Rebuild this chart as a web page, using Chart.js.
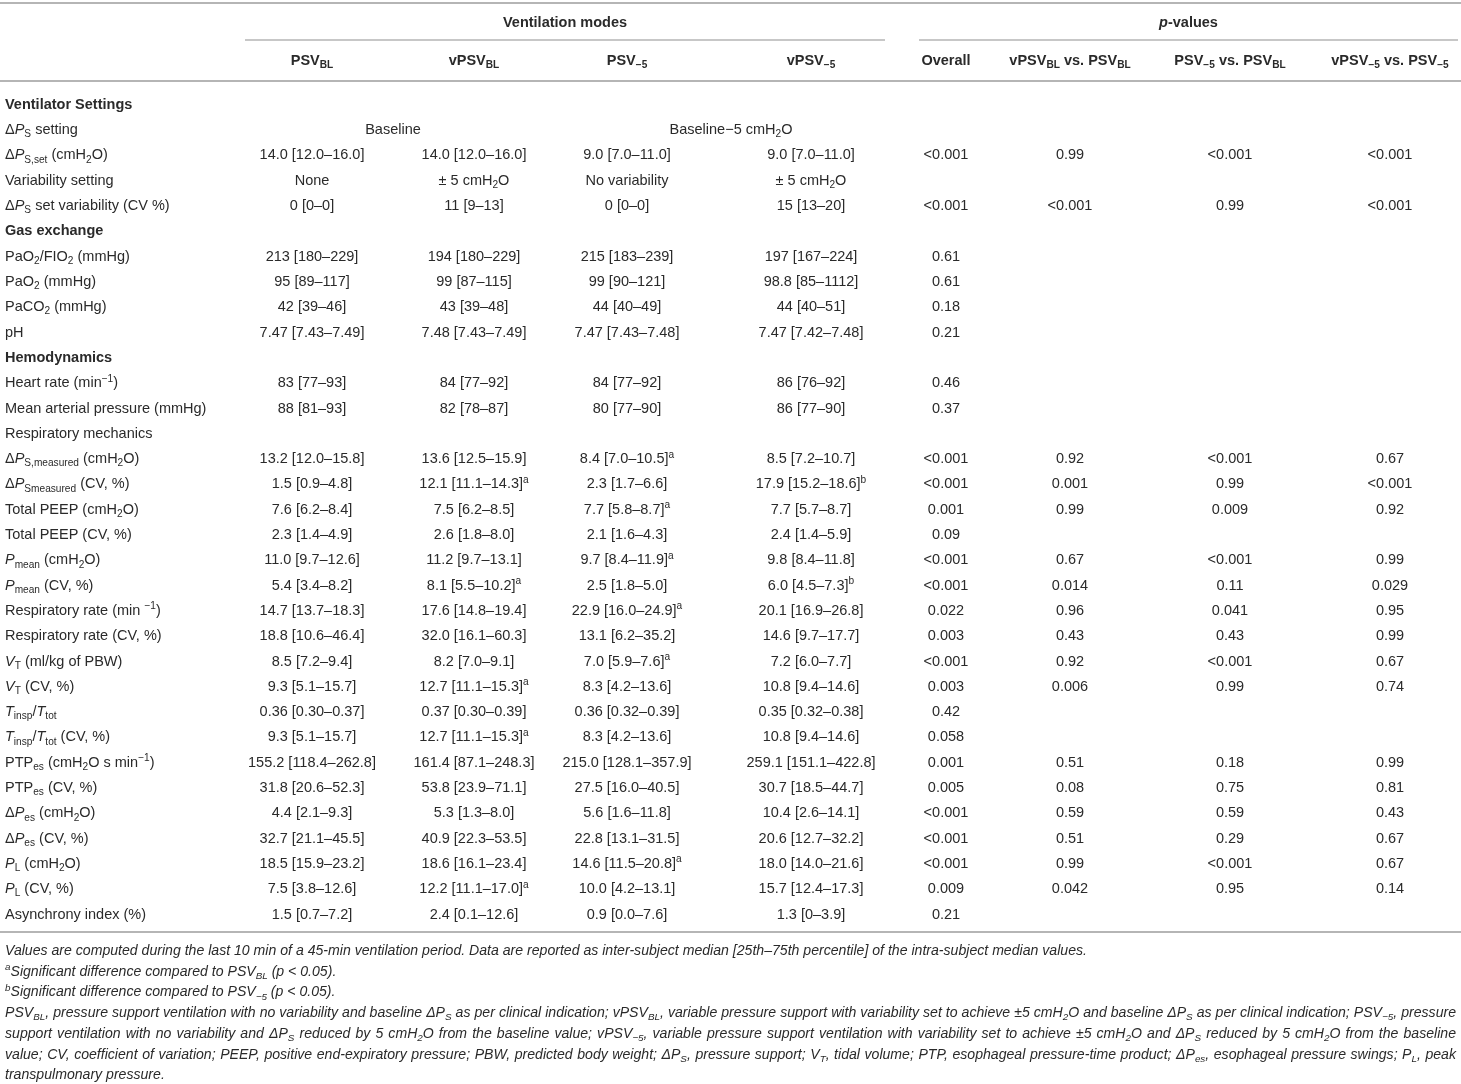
<!DOCTYPE html>
<html>
<head>
<meta charset="utf-8">
<script src="https://cdn.jsdelivr.net/npm/chart.js@4.4.0/dist/chart.umd.min.js"></script>
<style>
  html, body { margin: 0; padding: 0; background: #fff; }
  #wrap { width: 1461px; height: 1084px; position: relative; }
</style>
</head>
<body>
<div id="wrap"><canvas id="tableChart"></canvas></div>
<script>
// markup: *x* italic, _{x} subscript, ^{x} superscript
var groupHeaders = ['Ventilation modes', '*p*-values']
var colHeaders = ['PSV_{BL}', 'vPSV_{BL}', 'PSV_{−5}', 'vPSV_{−5}', 'Overall',
    'vPSV_{BL} vs. PSV_{BL}', 'PSV_{−5} vs. PSV_{BL}', 'vPSV_{−5} vs. PSV_{−5}']

var rowLabels = [
    'Ventilator Settings', 'Δ*P*_{S} setting', 'Δ*P*_{S,set} (cmH_{2}O)', 'Variability setting',
    'Δ*P*_{S} set variability (CV %)', 'Gas exchange', 'PaO_{2}/FIO_{2} (mmHg)', 'PaO_{2} (mmHg)',
    'PaCO_{2} (mmHg)', 'pH', 'Hemodynamics', 'Heart rate (min^{−1})', 'Mean arterial pressure (mmHg)',
    'Respiratory mechanics', 'Δ*P*_{S,measured} (cmH_{2}O)', 'Δ*P*_{Smeasured} (CV, %)',
    'Total PEEP (cmH_{2}O)', 'Total PEEP (CV, %)', '*P*_{mean} (cmH_{2}O)', '*P*_{mean} (CV, %)',
    'Respiratory rate (min ^{−1})', 'Respiratory rate (CV, %)', '*V*_{T} (ml/kg of PBW)', '*V*_{T} (CV, %)',
    '*T*_{insp}/*T*_{tot}', '*T*_{insp}/*T*_{tot} (CV, %)', 'PTP_{es} (cmH_{2}O s min^{−1})', 'PTP_{es} (CV, %)',
    'Δ*P*_{es} (cmH_{2}O)', 'Δ*P*_{es} (CV, %)', '*P*_{L} (cmH_{2}O)', '*P*_{L} (CV, %)', 'Asynchrony index (%)'
]
var sectionRows = [0, 5, 10]

var psvBL = ['', 'Baseline', '14.0 [12.0–16.0]', 'None', '0 [0–0]', '', '213 [180–229]', '95 [89–117]',
    '42 [39–46]', '7.47 [7.43–7.49]', '', '83 [77–93]', '88 [81–93]', '', '13.2 [12.0–15.8]', '1.5 [0.9–4.8]',
    '7.6 [6.2–8.4]', '2.3 [1.4–4.9]', '11.0 [9.7–12.6]', '5.4 [3.4–8.2]', '14.7 [13.7–18.3]', '18.8 [10.6–46.4]',
    '8.5 [7.2–9.4]', '9.3 [5.1–15.7]', '0.36 [0.30–0.37]', '9.3 [5.1–15.7]', '155.2 [118.4–262.8]',
    '31.8 [20.6–52.3]', '4.4 [2.1–9.3]', '32.7 [21.1–45.5]', '18.5 [15.9–23.2]', '7.5 [3.8–12.6]', '1.5 [0.7–7.2]']
var vpsvBL = ['', '', '14.0 [12.0–16.0]', '± 5 cmH_{2}O', '11 [9–13]', '', '194 [180–229]', '99 [87–115]',
    '43 [39–48]', '7.48 [7.43–7.49]', '', '84 [77–92]', '82 [78–87]', '', '13.6 [12.5–15.9]', '12.1 [11.1–14.3]^{a}',
    '7.5 [6.2–8.5]', '2.6 [1.8–8.0]', '11.2 [9.7–13.1]', '8.1 [5.5–10.2]^{a}', '17.6 [14.8–19.4]', '32.0 [16.1–60.3]',
    '8.2 [7.0–9.1]', '12.7 [11.1–15.3]^{a}', '0.37 [0.30–0.39]', '12.7 [11.1–15.3]^{a}', '161.4 [87.1–248.3]',
    '53.8 [23.9–71.1]', '5.3 [1.3–8.0]', '40.9 [22.3–53.5]', '18.6 [16.1–23.4]', '12.2 [11.1–17.0]^{a}', '2.4 [0.1–12.6]']
var psvM5 = ['', 'Baseline−5 cmH_{2}O', '9.0 [7.0–11.0]', 'No variability', '0 [0–0]', '', '215 [183–239]', '99 [90–121]',
    '44 [40–49]', '7.47 [7.43–7.48]', '', '84 [77–92]', '80 [77–90]', '', '8.4 [7.0–10.5]^{a}', '2.3 [1.7–6.6]',
    '7.7 [5.8–8.7]^{a}', '2.1 [1.6–4.3]', '9.7 [8.4–11.9]^{a}', '2.5 [1.8–5.0]', '22.9 [16.0–24.9]^{a}', '13.1 [6.2–35.2]',
    '7.0 [5.9–7.6]^{a}', '8.3 [4.2–13.6]', '0.36 [0.32–0.39]', '8.3 [4.2–13.6]', '215.0 [128.1–357.9]',
    '27.5 [16.0–40.5]', '5.6 [1.6–11.8]', '22.8 [13.1–31.5]', '14.6 [11.5–20.8]^{a}', '10.0 [4.2–13.1]', '0.9 [0.0–7.6]']
var vpsvM5 = ['', '', '9.0 [7.0–11.0]', '± 5 cmH_{2}O', '15 [13–20]', '', '197 [167–224]', '98.8 [85–1112]',
    '44 [40–51]', '7.47 [7.42–7.48]', '', '86 [76–92]', '86 [77–90]', '', '8.5 [7.2–10.7]', '17.9 [15.2–18.6]^{b}',
    '7.7 [5.7–8.7]', '2.4 [1.4–5.9]', '9.8 [8.4–11.8]', '6.0 [4.5–7.3]^{b}', '20.1 [16.9–26.8]', '14.6 [9.7–17.7]',
    '7.2 [6.0–7.7]', '10.8 [9.4–14.6]', '0.35 [0.32–0.38]', '10.8 [9.4–14.6]', '259.1 [151.1–422.8]',
    '30.7 [18.5–44.7]', '10.4 [2.6–14.1]', '20.6 [12.7–32.2]', '18.0 [14.0–21.6]', '15.7 [12.4–17.3]', '1.3 [0–3.9]']
var pOverall = ['', '', '<0.001', '', '<0.001', '', '0.61', '0.61', '0.18', '0.21', '', '0.46', '0.37', '',
    '<0.001', '<0.001', '0.001', '0.09', '<0.001', '<0.001', '0.022', '0.003', '<0.001', '0.003', '0.42', '0.058',
    '0.001', '0.005', '<0.001', '<0.001', '<0.001', '0.009', '0.21']
var pVblVsBl = ['', '', '0.99', '', '<0.001', '', '', '', '', '', '', '', '', '',
    '0.92', '0.001', '0.99', '', '0.67', '0.014', '0.96', '0.43', '0.92', '0.006', '', '',
    '0.51', '0.08', '0.59', '0.51', '0.99', '0.042', '']
var pM5VsBl = ['', '', '<0.001', '', '0.99', '', '', '', '', '', '', '', '', '',
    '<0.001', '0.99', '0.009', '', '<0.001', '0.11', '0.041', '0.43', '<0.001', '0.99', '', '',
    '0.18', '0.75', '0.59', '0.29', '<0.001', '0.95', '']
var pVm5VsM5 = ['', '', '<0.001', '', '<0.001', '', '', '', '', '', '', '', '', '',
    '0.67', '<0.001', '0.92', '', '0.99', '0.029', '0.95', '0.99', '0.67', '0.74', '', '',
    '0.99', '0.81', '0.43', '0.67', '0.67', '0.14', '']
var columns = [psvBL, vpsvBL, psvM5, vpsvM5, pOverall, pVblVsBl, pM5VsBl, pVm5VsM5]

var footnotes = [
    'Values are computed during the last 10 min of a 45-min ventilation period. Data are reported as inter-subject median [25th–75th percentile] of the intra-subject median values.',
    '^{a}Significant difference compared to PSV_{BL} (p < 0.05).',
    '^{b}Significant difference compared to PSV_{−5} (p < 0.05).',
    'PSV_{BL}, pressure support ventilation with no variability and baseline ΔP_{S} as per clinical indication; vPSV_{BL}, variable pressure support with variability set to achieve ±5 cmH_{2}O and baseline ΔP_{S} as per clinical indication; PSV_{−5}, pressure',
    'support ventilation with no variability and ΔP_{S} reduced by 5 cmH_{2}O from the baseline value; vPSV_{−5}, variable pressure support ventilation with variability set to achieve ±5 cmH_{2}O and ΔP_{S} reduced by 5 cmH_{2}O from the baseline',
    'value; CV, coefficient of variation; PEEP, positive end-expiratory pressure; PBW, predicted body weight; ΔP_{S}, pressure support; V_{T}, tidal volume; PTP, esophageal pressure-time product; ΔP_{es}, esophageal pressure swings; P_{L}, peak',
    'transpulmonary pressure.'
]
var justifiedNotes = [3, 4, 5]

// layout
var FONT = '"Liberation Sans", Arial, sans-serif'
var TEXT = '#2a2a2a'
var RULE = '#b5b5b5'
var W = 1461
var colCenters = [312, 474, 627, 811, 946, 1070, 1230, 1390]
var spanCenters = {0: 393, 2: 731}
var groupSpans = [[245, 885], [919, 1458]]

function parseRich(str) {
    var segs = [], italic = false, buf = ''
    function push(t, script) { if (t) segs.push({text: t, italic: italic, script: script}) }
    for (var i = 0; i < str.length; i++) {
        var c = str[i]
        if (c === '*') { push(buf, 0); buf = ''; italic = !italic; continue }
        if ((c === '_' || c === '^') && str[i + 1] === '{') {
            push(buf, 0); buf = ''
            var end = str.indexOf('}', i)
            push(str.slice(i + 2, end), c === '_' ? 'sub' : 'sup')
            i = end
            continue
        }
        buf += c
    }
    push(buf, 0)
    return segs
}

function segFont(s, o) {
    var size = s.script ? o.size * 0.7 : o.size
    return ((s.italic || o.italic) ? 'italic ' : '') + (o.bold ? 'bold ' : '') + size + 'px ' + FONT
}

function drawRich(ctx, str, x, y, o) {
    var segs = parseRich(str)
    var w = 0, spaces = 0
    segs.forEach(function (s) {
        ctx.font = segFont(s, o)
        w += ctx.measureText(s.text).width
        spaces += s.text.split(' ').length - 1
    })
    var extra = 0
    if (o.justify && spaces) { extra = (o.justify - w) / spaces; w = o.justify }
    var cx = o.align === 'center' ? x - w / 2 : x
    ctx.fillStyle = o.color || TEXT
    ctx.textAlign = 'left'
    ctx.textBaseline = 'alphabetic'
    segs.forEach(function (s) {
        ctx.font = segFont(s, o)
        var dy = s.script === 'sub' ? o.size * 0.22 : (s.script === 'sup' ? -o.size * 0.38 : 0)
        s.text.split(' ').forEach(function (p, k) {
            if (k > 0) cx += ctx.measureText(' ').width + extra
            ctx.fillText(p, cx, y + dy)
            cx += ctx.measureText(p).width
        })
    })
}

function rule(ctx, x1, x2, y, lw) {
    ctx.beginPath()
    ctx.lineWidth = lw
    ctx.strokeStyle = RULE
    ctx.moveTo(x1, y)
    ctx.lineTo(x2, y)
    ctx.stroke()
}

var tablePlugin = {
    id: 'tablePlugin',
    beforeDraw: function (chart) {
        var ctx = chart.ctx
        ctx.save()
        ctx.fillStyle = '#fff'
        ctx.fillRect(0, 0, chart.width, chart.height)
        ctx.restore()
    },
    afterDraw: function (chart) {
        var ctx = chart.ctx
        var xs = chart.scales.x, ys = chart.scales.y, area = chart.chartArea
        var size = 14.5, base = size * 0.36
        ctx.save()

        // header rules and headings
        rule(ctx, xs.getPixelForValue(0), xs.getPixelForValue(W), area.top - 88, 2)
        groupHeaders.forEach(function (g, i) {
            var a = xs.getPixelForValue(groupSpans[i][0]), b = xs.getPixelForValue(groupSpans[i][1])
            drawRich(ctx, g, (a + b) / 2, area.top - 69 + base, {size: size, bold: true, align: 'center'})
            rule(ctx, a, b, area.top - 51, 1.5)
        })
        colHeaders.forEach(function (h, i) {
            drawRich(ctx, h, xs.getPixelForValue(colCenters[i]), area.top - 31 + base, {size: size, bold: true, align: 'center'})
        })
        rule(ctx, xs.getPixelForValue(0), xs.getPixelForValue(W), area.top - 10, 2)

        // body
        rowLabels.forEach(function (lab, r) {
            var py = ys.getPixelForValue(r) + base
            drawRich(ctx, lab, xs.getPixelForValue(5), py, {size: size, bold: sectionRows.indexOf(r) >= 0})
            columns.forEach(function (col, c) {
                if (!col[r]) return
                var cx = (r === 1 && spanCenters[c] !== undefined) ? spanCenters[c] : colCenters[c]
                drawRich(ctx, col[r], xs.getPixelForValue(cx), py, {size: size, align: 'center'})
            })
        })
        rule(ctx, xs.getPixelForValue(0), xs.getPixelForValue(W), area.bottom + 6, 2)

        // footnotes
        var fs = 14.1
        var fx = xs.getPixelForValue(5), fw = xs.getPixelForValue(1456) - fx
        footnotes.forEach(function (t, i) {
            drawRich(ctx, t, fx, area.bottom + 24 + i * 20.7 + fs * 0.36,
                {size: fs, italic: true, justify: justifiedNotes.indexOf(i) >= 0 ? fw : 0})
        })
        ctx.restore()
    }
}

var ctx = document.getElementById('tableChart').getContext('2d')
var tableChart = new Chart(ctx, {
    type: 'scatter',
    data: { datasets: [] },
    options: {
        responsive: true,
        maintainAspectRatio: false,
        animation: false,
        layout: { padding: { top: 91, bottom: 158, left: 0, right: 0 } },
        plugins: { legend: { display: false }, tooltip: { enabled: false } },
        scales: {
            x: { type: 'linear', min: 0, max: W, display: false },
            y: { type: 'category', labels: rowLabels, offset: true, display: false }
        }
    },
    plugins: [tablePlugin]
})
</script>
</body>
</html>
